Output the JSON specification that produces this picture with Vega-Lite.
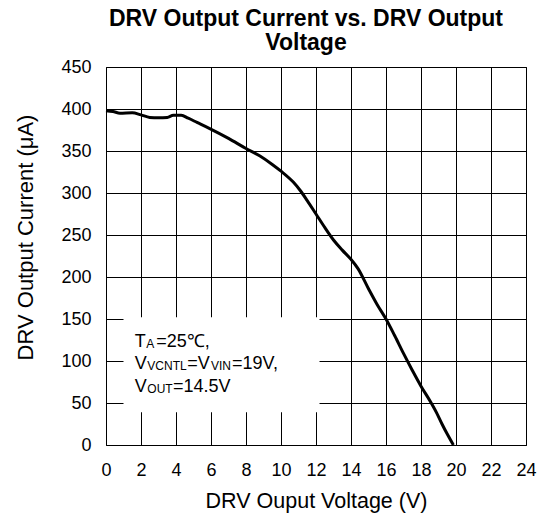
{
  "$schema": "https://vega.github.io/schema/vega-lite/v6.json",
  "width": 420,
  "height": 378,
  "autosize": {"type": "none"},
  "padding": {"left": 106, "top": 67, "right": 19, "bottom": 72},
  "background": "white",
  "title": {
    "text": ["DRV Output Current vs. DRV Output", "Voltage"],
    "font": "Liberation Sans",
    "fontSize": 23,
    "fontWeight": "bold",
    "color": "black",
    "anchor": "middle",
    "frame": "group",
    "offset": 3,
    "lineHeight": 24,
    "dx": -10
  },
  "config": {
    "view": {"stroke": "black", "strokeWidth": 1},
    "axis": {
      "labelFont": "Liberation Sans",
      "labelFontSize": 18,
      "labelColor": "black",
      "titleFont": "Liberation Sans",
      "titleFontSize": 21.5,
      "titleFontWeight": "normal",
      "titleColor": "black",
      "grid": true,
      "gridColor": "black",
      "gridOpacity": 1,
      "gridWidth": 1,
      "ticks": false,
      "tickSize": 0,
      "domain": false,
      "labelFlush": false,
      "labelOverlap": false
    },
    "axisX": {
      "values": [0, 2, 4, 6, 8, 10, 12, 14, 16, 18, 20, 22, 24],
      "labelPadding": 16,
      "titlePadding": 11
    },
    "axisY": {
      "values": [0, 50, 100, 150, 200, 250, 300, 350, 400, 450],
      "labelPadding": 15,
      "titlePadding": 23,
      "titleFontSize": 22,
      "titleY": 170
    }
  },
  "datasets": {
    "curve": [
      {"v": 0, "i": 398},
      {"v": 0.4, "i": 397},
      {"v": 0.8, "i": 395},
      {"v": 1.5, "i": 395.5},
      {"v": 2.0, "i": 393},
      {"v": 2.5, "i": 390},
      {"v": 3.0, "i": 389.5},
      {"v": 3.5, "i": 390},
      {"v": 3.85, "i": 392.5},
      {"v": 4.3, "i": 392.5},
      {"v": 4.7, "i": 389},
      {"v": 5.2, "i": 384},
      {"v": 5.9, "i": 377},
      {"v": 7.0, "i": 365},
      {"v": 8.0, "i": 353},
      {"v": 8.8, "i": 344},
      {"v": 9.5, "i": 334},
      {"v": 10.0, "i": 326},
      {"v": 10.7, "i": 313},
      {"v": 11.1, "i": 303},
      {"v": 11.5, "i": 291},
      {"v": 12.0, "i": 275},
      {"v": 12.5, "i": 259},
      {"v": 13.0, "i": 244},
      {"v": 13.5, "i": 232},
      {"v": 14.0, "i": 221},
      {"v": 14.4, "i": 210},
      {"v": 15.0, "i": 186},
      {"v": 15.5, "i": 167},
      {"v": 16.0, "i": 150},
      {"v": 16.5, "i": 130},
      {"v": 17.0, "i": 109},
      {"v": 17.5, "i": 89},
      {"v": 18.0, "i": 70},
      {"v": 18.5, "i": 53},
      {"v": 18.9, "i": 38},
      {"v": 19.2, "i": 25},
      {"v": 19.5, "i": 13},
      {"v": 19.85, "i": 0}
    ],
    "box": [
      {"x1": 1.0, "x2": 12.2, "y1": 39, "y2": 152}
    ],
    "mainText": [
      {"x": 1.64, "y": 116.3, "t": "T"},
      {"x": 2.874, "y": 116.3, "t": "=25℃,"},
      {"x": 1.64, "y": 90.5, "t": "V"},
      {"x": 4.646, "y": 90.5, "t": "=V"},
      {"x": 7.2, "y": 90.5, "t": "=19V,"},
      {"x": 1.64, "y": 63.5, "t": "V"},
      {"x": 3.829, "y": 63.5, "t": "=14.5V"}
    ],
    "subText": [
      {"x": 2.303, "y": 115.1, "t": "A"},
      {"x": 2.36, "y": 89.3, "t": "VCNTL"},
      {"x": 5.994, "y": 89.3, "t": "VIN"},
      {"x": 2.36, "y": 62.3, "t": "OUT"}
    ]
  },
  "layer": [
    {
      "data": {"name": "curve"},
      "mark": {"type": "line", "color": "black", "strokeWidth": 3, "interpolate": "monotone"},
      "encoding": {
        "x": {"field": "v", "type": "quantitative", "title": "DRV Ouput Voltage (V)", "scale": {"domain": [0, 24], "nice": false}},
        "y": {"field": "i", "type": "quantitative", "title": "DRV Output Current (μA)", "scale": {"domain": [0, 450], "nice": false}}
      }
    },
    {
      "data": {"name": "box"},
      "mark": {"type": "rect", "fill": "white", "stroke": null},
      "encoding": {
        "x": {"field": "x1", "type": "quantitative", "title": "DRV Ouput Voltage (V)"},
        "x2": {"field": "x2"},
        "y": {"field": "y1", "type": "quantitative", "title": "DRV Output Current (μA)"},
        "y2": {"field": "y2"}
      }
    },
    {
      "data": {"name": "mainText"},
      "mark": {"type": "text", "align": "left", "baseline": "alphabetic", "font": "Liberation Sans", "fontSize": 18, "color": "black"},
      "encoding": {
        "x": {"field": "x", "type": "quantitative", "title": "DRV Ouput Voltage (V)"},
        "y": {"field": "y", "type": "quantitative", "title": "DRV Output Current (μA)"},
        "text": {"field": "t"}
      }
    },
    {
      "data": {"name": "subText"},
      "mark": {"type": "text", "align": "left", "baseline": "alphabetic", "font": "Liberation Sans", "fontSize": 12, "color": "black"},
      "encoding": {
        "x": {"field": "x", "type": "quantitative", "title": "DRV Ouput Voltage (V)"},
        "y": {"field": "y", "type": "quantitative", "title": "DRV Output Current (μA)"},
        "text": {"field": "t"}
      }
    }
  ]
}
